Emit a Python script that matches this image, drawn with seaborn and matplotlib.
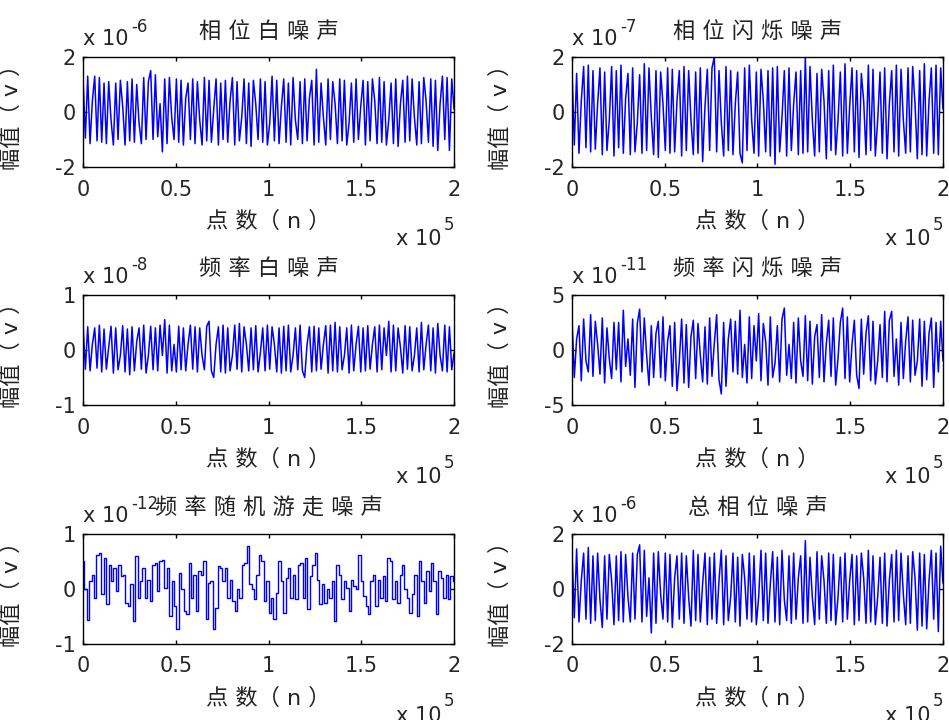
import numpy as np
import pandas as pd
import seaborn as sns
import matplotlib.pyplot as plt

# titles / scale exponents / y ranges for the six panels
titles = ['相 位 白 噪 声', '相 位 闪 烁 噪 声', '频 率 白 噪 声',
          '频 率 闪 烁 噪 声', '频 率 随 机 游 走 噪 声', '总 相 位 噪 声']
exponents = ['-6', '-7', '-8', '-11', '-12', '-6']
ylims = [2, 2, 1, 5, 1, 2]
xtick_labels = ['0', '0.5', '1', '1.5', '2']

# values (in units of the panel's x 10^k)
phase_white = [
    1.2, -0.95, 1.3, -1.15, 0.4, 1.3, -1.05, 1.25, -1.1, 1.05,
    -1.15, 1.1, -0.3, -1.2, 1.05, -1.0, 1.15, 0.2, -1.2, 1.1,
    -1.05, 1.2, -1.1, 1.0, -0.4, -1.15, 1.25, -1.0, 1.1, 1.5,
    -1.0, 1.35, -0.9, 0.3, -1.45, 1.2, -1.15, 1.25, -0.2, -1.0,
    1.2, -1.1, 1.15, -1.2, 0.5, 1.05, -1.0, 1.2, -1.15, 1.1,
    -0.3, -1.2, 1.25, -1.05, 1.15, -1.1, 0.1, 1.2, -1.2, 1.05,
    -1.0, 1.15, -1.1, 0.4, 1.25, -1.2, 1.1, -1.05, -0.2, 1.2,
    -1.15, 1.05, -1.25, 1.15, 0.3, -1.0, 1.2, -1.1, 1.1, -1.2,
    -0.4, 1.3, -1.05, 1.15, -1.15, 0.2, 1.2, -1.1, 1.05, -1.2,
    1.25, -0.3, -1.0, 1.1, -1.15, 1.2, -1.05, 0.5, 1.15, -1.2,
    1.55, -1.1, 1.05, -0.2, -1.2, 1.2, -1.0, 1.1, 0.3, -1.15,
    1.2, -1.05, 1.15, -1.2, -0.4, 1.05, -1.1, 1.2, -1.0, 0.2,
    1.15, -1.2, 1.1, -1.05, 1.2, 0.4, -1.15, 1.25, -1.1, 1.1,
    -1.2, -0.3, 1.05, -1.15, 1.2, -1.25, 0.3, 1.15, -1.1, 1.3,
    -1.05, 1.2, -0.2, -1.2, 1.1, -1.15, 1.25, 0.4, -1.1, 1.2,
    -1.25, 1.15, -1.4, 0.3, 1.3, -1.0, 1.25, -1.4, 1.2, 0.1]
phase_flicker = [
    1.6, -1.2, 1.4, -1.5, 0.4, 1.65, -1.3, 1.7, -1.45, 1.5,
    -1.35, 0.3, 1.6, -1.55, 1.45, -1.4, -0.3, 1.65, -1.6, 1.5,
    -1.3, 1.7, -1.5, 0.5, 1.4, -1.55, 1.6, -1.45, -0.4, 1.35,
    -1.5, 1.75, -1.4, 1.6, -0.2, -1.55, 1.5, -1.65, 1.45, 0.3,
    -1.4, 1.6, -1.5, 1.55, -1.45, 0.4, 1.5, -1.6, 1.65, -1.4,
    1.5, -0.3, -1.55, 1.45, -1.5, 1.6, -1.8, 0.2, 1.55, -1.4,
    1.6, 2.0, -1.45, 1.5, -0.4, -1.6, 1.65, -1.4, 1.5, -1.55,
    0.3, 1.45, -1.5, -1.85, 1.6, -1.4, 1.7, -0.3, -1.5, 1.45,
    -1.6, 1.55, 0.4, -1.45, 1.5, -1.6, 1.6, -1.9, 1.65, -1.45,
    -0.2, 1.5, -1.6, 1.6, -1.4, 0.3, 1.45, -1.55, 1.5, -1.5,
    2.0, -1.45, 1.65, -0.3, -1.6, 1.4, -1.45, 1.55, 0.4, -1.7,
    1.5, -1.4, 1.7, -1.55, -0.3, 1.45, -1.6, 1.75, -1.5, 0.2,
    1.6, -1.45, 1.5, -1.65, 1.4, 0.4, -1.55, 1.7, -1.4, 1.55,
    -1.6, -0.3, 1.45, -1.5, 1.6, -1.7, 0.3, 1.5, -1.45, 1.7,
    -1.6, 1.55, -0.3, -1.5, 1.6, -1.45, 1.65, 0.3, -1.7, 1.5,
    -1.55, 1.75, -1.6, 0.4, 1.6, -1.5, 1.7, -1.55, 1.6, 0.1]
freq_white = [
    0.45, -0.35, 0.42, -0.38, 0.1, 0.4, -0.33, 0.45, -0.4, 0.38,
    -0.35, 0.05, 0.43, -0.42, 0.4, -0.36, -0.1, 0.44, -0.4, 0.38,
    -0.45, 0.42, -0.38, 0.15, 0.4, -0.35, 0.45, -0.42, -0.1, 0.43,
    -0.36, 0.4, -0.38, 0.45, -0.1, 0.55, -0.42, 0.45, -0.38, 0.1,
    -0.4, 0.43, -0.36, 0.4, -0.38, 0.1, 0.45, -0.35, 0.42, -0.4,
    0.4, -0.1, -0.36, 0.43, 0.52, -0.38, -0.5, 0.1, 0.42, -0.4,
    0.45, -0.42, 0.4, -0.38, -0.1, 0.45, -0.35, 0.48, -0.4, 0.42,
    0.1, -0.38, 0.4, -0.36, 0.44, -0.4, -0.05, 0.4, -0.38, 0.45,
    -0.35, 0.42, 0.1, -0.4, 0.4, -0.42, 0.43, -0.38, 0.45, -0.4,
    -0.1, 0.4, -0.36, 0.45, -0.38, -0.5, 0.1, 0.42, -0.4, 0.43,
    -0.38, 0.4, -0.35, 0.1, 0.44, -0.42, 0.45, -0.38, 0.5, -0.4,
    0.42, -0.36, -0.1, 0.4, -0.42, 0.45, -0.38, 0.1, 0.43, -0.4,
    0.4, -0.38, 0.44, -0.35, 0.1, 0.42, -0.4, 0.45, -0.36, 0.4,
    -0.1, 0.52, -0.4, 0.45, -0.38, 0.4, 0.05, -0.42, 0.44, -0.35,
    0.42, -0.38, -0.1, 0.4, -0.4, 0.5, -0.36, 0.1, 0.45, -0.38,
    0.4, -0.42, 0.48, -0.1, -0.38, 0.45, -0.4, 0.42, -0.36, -0.05]
freq_flicker = [
    3.0, -2.5, 1.0, 2.2, -2.8, 2.8, -1.0, -2.0, 3.2, -2.4,
    2.6, 0.5, -2.2, 2.9, -3.0, 2.0, -0.8, -2.6, 2.5, -1.8,
    2.5, -2.9, 3.6, -1.5, 1.0, -2.3, 2.8, -3.4, 2.4, 3.7,
    -2.0, 2.9, -0.5, -3.2, 2.2, -2.5, 1.5, 2.6, -2.5, 3.0,
    -2.8, 0.8, 2.2, -3.3, 2.5, -3.7, -1.0, 2.8, -3.0, 2.3,
    -3.4, 1.2, 2.7, -2.6, 2.4, -0.5, -2.9, 2.1, -3.1, 2.9,
    -2.4, 0.6, 3.2, -2.7, -4.0, 2.5, -3.3, 1.0, 2.8, -2.0,
    2.6, -2.2, 3.6, -2.5, 0.5, -3.0, 3.0, -2.6, 2.2, -1.0,
    3.3, -2.8, 2.4, 0.8, -3.2, 3.0, -2.5, -1.2, 2.2, -2.9,
    2.8, 3.8, -2.3, 0.5, -2.6, 2.5, -3.0, 2.9, -1.0, -2.4,
    3.1, -2.8, 2.6, -3.1, 1.2, 2.3, -2.5, 3.2, -2.9, 0.6,
    2.7, -2.4, 2.9, -3.2, -0.8, 2.5, 3.8, -2.6, 3.0, -2.9,
    0.5, 2.7, -2.3, -3.5, 2.8, -2.2, 1.5, 3.1, -2.8, 2.6,
    -3.1, -1.0, 2.3, -2.5, 3.5, -2.9, 2.7, 3.5, -2.4, 1.0,
    -3.2, 2.5, -2.6, 0.8, 3.0, -2.9, 2.7, -2.3, -1.0, 2.8,
    -3.3, 2.6, -2.7, 1.5, 2.9, -3.4, 2.5, -2.0, 2.6, -1.0]
freq_walk = [
    0.5, 0.0, -0.56, 0.15, 0.26, -0.16, 0.62, 0.65, -0.1, 0.56,
    -0.28, 0.44, 0.14, 0.38, -0.04, 0.44, 0.23, 0.26, -0.25, -0.31,
    0.08, -0.58, 0.6, -0.16, 0.14, 0.38, -0.16, 0.17, -0.22, 0.44,
    0.47, -0.04, 0.5, 0.53, 0.02, 0.38, -0.49, 0.14, -0.31, -0.73,
    0.29, 0.0, -0.4, -0.46, 0.47, -0.16, 0.26, -0.4, 0.32, 0.26,
    0.5, -0.55, 0.11, 0.14, -0.73, -0.34, 0.41, 0.38, 0.14, 0.38,
    -0.16, 0.17, -0.22, -0.4, 0.0, -0.16, 0.44, 0.47, 0.77, 0.08,
    0.0, -0.19, 0.26, 0.62, 0.5, -0.22, 0.14, -0.43,
    -0.16, -0.55, -0.07, 0.5, 0.14, -0.43, 0.2, 0.38, -0.16, 0.26,
    -0.19, 0.44, 0.47, -0.16, 0.56, -0.37, 0.23, 0.44, 0.65, 0.17,
    -0.28, 0.08, -0.25, 0.0, -0.16, 0.14, -0.58, 0.44, 0.26, -0.19,
    0.14, 0.02, -0.4, 0.17, 0.05, 0.0, 0.62, 0.14, -0.13, -0.31,
    -0.46, 0.14, 0.26, -0.31, 0.17, -0.16, 0.23, -0.22, 0.56, 0.5,
    -0.19, 0.14, -0.25, 0.26, 0.44, 0.0, -0.16, -0.43, -0.1, 0.26,
    -0.49, 0.5, 0.14, -0.25, 0.32, -0.04, 0.47, 0.14, -0.46, 0.32,
    0.2, -0.16, 0.26, -0.19, 0.23, 0.14]
phase_total = [
    1.4, -1.05, 1.45, -1.2, 0.3, 1.3, -1.1, 1.5, -1.25, 1.2,
    -1.15, 1.3, -0.4, -1.4, 1.2, -1.1, 1.25, 0.3, -1.3, 1.2,
    -1.15, 1.35, -1.2, 1.25, -0.3, -1.2, 1.3, -1.1, 1.25, 1.6,
    -1.2, 1.4, -1.0, 0.4, -1.6, 1.3, -1.25, 1.35, -0.2, -1.1,
    1.3, -1.2, 1.25, -1.4, 0.4, 1.2, -1.1, 1.3, -1.25, 1.2,
    -0.3, -1.35, 1.4, -1.15, 1.25, -1.2, 0.2, 1.3, -1.3, 1.15,
    -1.1, 1.3, -1.25, 0.3, 1.4, -1.3, 1.2, -1.15, -0.3, 1.3,
    -1.2, 1.15, -1.35, 1.25, 0.4, -1.1, 1.3, -1.2, 1.2, -1.3,
    -0.3, 1.4, -1.15, 1.3, -1.25, 0.2, 1.35, -1.2, 1.15, -1.3,
    1.4, -0.4, -1.15, 1.2, -1.25, 1.3, -1.1, 0.4, 1.2, -1.25,
    1.75, -1.2, 1.15, -0.3, -1.3, 1.35, -1.1, 1.2, 0.3, -1.25,
    1.3, -1.15, 1.25, -1.3, -0.3, 1.15, -1.2, 1.3, -1.1, 0.3,
    1.25, -1.3, 1.2, -1.15, 1.3, 0.4, -1.25, 1.4, -1.2, 1.2,
    -1.3, -0.3, 1.15, -1.25, 1.3, -1.35, 0.3, 1.25, -1.2, 1.4,
    -1.15, 1.3, -0.2, -1.3, 1.2, -1.25, 1.35, 0.4, -1.5, 1.3,
    -1.35, 1.25, -1.45, 0.3, 1.4, -1.1, 1.3, -1.55, 1.55, 0.2]

series = [phase_white, phase_flicker, freq_white, freq_flicker, freq_walk, phase_total]

sns.set_style('ticks')
plt.rcParams['font.family'] = ['DejaVu Sans', 'Noto Sans CJK SC']
plt.rcParams['axes.unicode_minus'] = False

fig = plt.figure(figsize=(9.49, 7.2), dpi=100)

lefts = [0.0875, 0.6027]
bottoms = [0.768, 0.4375, 0.1056]

for k in range(6):
    r, c = k // 2, k % 2
    ax = fig.add_axes([lefts[c], bottoms[r], 0.391, 0.153])
    vals = series[k]
    df = pd.DataFrame({'n': np.linspace(0, 2, len(vals)), 'v': vals})
    # random walk panel looks stair-like, the others are plain dense traces
    if k == 4:
        sns.lineplot(data=df, x='n', y='v', ax=ax, color='#0000ff', linewidth=1.0,
                     estimator=None, sort=False, drawstyle='steps-mid')
    else:
        sns.lineplot(data=df, x='n', y='v', ax=ax, color='#0000ff', linewidth=1.1,
                     estimator=None, sort=False)

    ax.set_xlim(0, 2)
    ax.set_ylim(-ylims[k], ylims[k])
    ax.set_xticks([0, 0.5, 1, 1.5, 2])
    ax.set_xticklabels(xtick_labels)
    ax.set_yticks([-ylims[k], 0, ylims[k]])
    ax.set_yticklabels([str(-ylims[k]), '0', str(ylims[k])])
    ax.tick_params(direction='in', length=3, width=1, top=True, right=True,
                   labelsize=15, color='black')
    ax.tick_params(axis='x', pad=9)
    ax.tick_params(axis='y', pad=5)
    for s in ax.spines.values():
        s.set_color('black')
        s.set_linewidth(1.0)

    ax.set_title(titles[k], fontsize=16, pad=14, color='#222222')
    ax.set_xlabel('点 数（ n ）', fontsize=16, color='#222222')
    ax.set_ylabel('幅值（ v ）', fontsize=16, color='#222222')
    ax.xaxis.set_label_coords(0.5, -0.4)
    ax.yaxis.set_label_coords(-0.165, 0.5)

    # MATLAB style multipliers
    ax.annotate('x 10', xy=(0, 1), xycoords='axes fraction', xytext=(0, 8.5),
                textcoords='offset points', ha='left', va='baseline', fontsize=15)
    ax.annotate(exponents[k], xy=(0, 1), xycoords='axes fraction', xytext=(35, 18),
                textcoords='offset points', ha='left', va='baseline', fontsize=12)
    ax.annotate('x 10', xy=(1, 0), xycoords='axes fraction', xytext=(-9, -56),
                textcoords='offset points', ha='right', va='baseline', fontsize=15)
    ax.annotate('5', xy=(1, 0), xycoords='axes fraction', xytext=(0, -45),
                textcoords='offset points', ha='right', va='baseline', fontsize=12)

fig.savefig('out.png', dpi=100)
